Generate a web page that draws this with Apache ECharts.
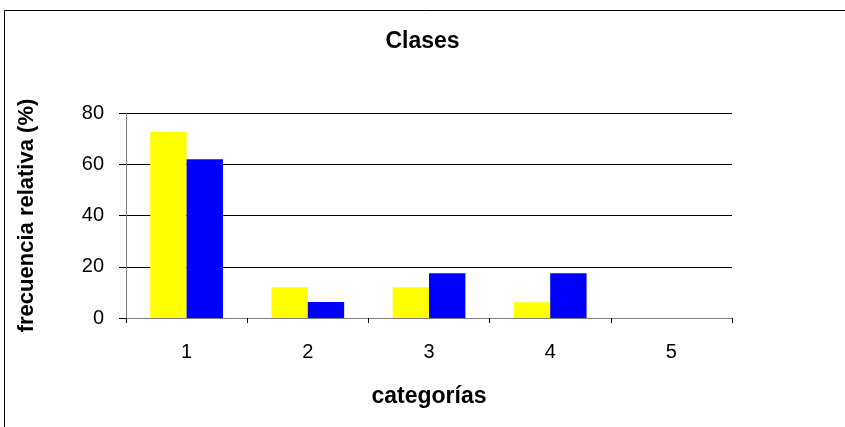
<!DOCTYPE html>
<html><head><meta charset="utf-8">
<script src="https://cdn.jsdelivr.net/npm/echarts@6/dist/echarts.min.js"></script>
<style>html,body{margin:0;padding:0;background:#fff}#c{width:845px;height:427px}</style>
</head><body><div id="c"></div>
<script>
const categories = ['1', '2', '3', '4', '5'];
const yellowValues = [72.7, 12, 12, 6.1, 0];
const blueValues = [62, 6.2, 17.5, 17.5, 0];
const yTicks = { min: 0, max: 80, interval: 20 };

const chart = echarts.init(document.getElementById('c'), null, { renderer: 'canvas' });
const font = 'Liberation Sans, Arial, sans-serif';
chart.setOption({
  animation: false,
  backgroundColor: '#fff',
  title: {
    text: 'Clases', left: 'center', top: 25,
    textStyle: { fontFamily: font, fontSize: 23, fontWeight: 'bold', color: '#000' }
  },
  graphic: [{
    type: 'rect', shape: { x: 4.5, y: 10.5, width: 1000, height: 1000 },
    style: { fill: 'none', stroke: '#000', lineWidth: 1 }, silent: true
  }],
  grid: { left: 126, right: 113, top: 113, bottom: 109, containLabel: false },
  xAxis: {
    type: 'category', data: categories,
    name: 'categorías', nameLocation: 'middle', nameGap: 67,
    nameTextStyle: { fontFamily: font, fontSize: 23, fontWeight: 'bold', color: '#000' },
    axisLine: { lineStyle: { color: '#808080', width: 1 } },
    axisTick: { show: true, length: 5, lineStyle: { color: '#000' } },
    axisLabel: { fontFamily: font, fontSize: 20, color: '#000', margin: 24 },
    splitLine: { show: false }
  },
  yAxis: {
    type: 'value', min: yTicks.min, max: yTicks.max, interval: yTicks.interval,
    name: 'frecuencia relativa (%)', nameLocation: 'middle', nameGap: 88, nameRotate: 90,
    nameTextStyle: { fontFamily: font, fontSize: 22, fontWeight: 'bold', color: '#000' },
    axisLine: { show: true, lineStyle: { color: '#808080', width: 1 } },
    axisTick: { show: true, length: 7, lineStyle: { color: '#000' } },
    axisLabel: { fontFamily: font, fontSize: 20, color: '#000', margin: 22 },
    splitLine: { show: true, lineStyle: { color: '#000', width: 1 } }
  },
  series: [
    { type: 'bar', data: yellowValues, itemStyle: { color: '#ffff00' }, barGap: '0%', barCategoryGap: '40%' },
    { type: 'bar', data: blueValues, itemStyle: { color: '#0000ff' }, barGap: '0%', barCategoryGap: '40%' }
  ]
});
</script></body></html>
